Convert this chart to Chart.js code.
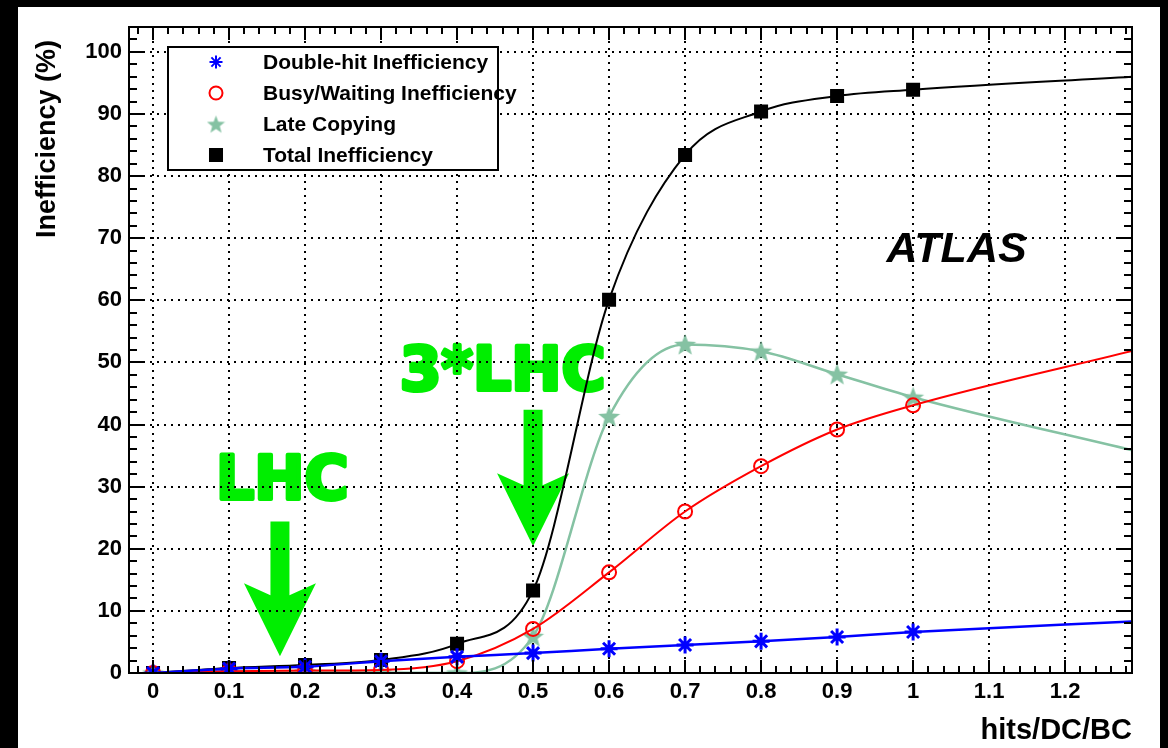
<!DOCTYPE html>
<html>
<head>
<meta charset="utf-8">
<script src="https://cdn.jsdelivr.net/npm/chart.js@4.4.0/dist/chart.umd.min.js"></script>
<style>
  html, body { margin: 0; padding: 0; background: #000; }
  canvas { display: block; }
</style>
</head>
<body>
<canvas id="myChart" width="1168" height="748"></canvas>
<script>
'use strict';
// hits per double column per bunch crossing
let hits = [0, 0.1, 0.2, 0.3, 0.4, 0.5, 0.6, 0.7, 0.8, 0.9, 1.0];
let doubleHit = [0, 0.7, 1.0, 1.9, 2.6, 3.2, 3.9, 4.5, 5.1, 5.8, 6.6];
let busyWaiting = [0, 0.3, 0.4, 0.5, 1.9, 7.1, 16.2, 26.0, 33.3, 39.2, 43.1];
let lateCopying = [0, 0.2, 0.2, 0.1, 0, 5.9, 41.3, 52.9, 51.8, 48.1, 44.4];
let totalIneff = [0, 0.8, 1.3, 2.1, 4.7, 13.3, 60.1, 83.4, 90.4, 92.9, 93.9];

// the fit curves run on to the right edge of the frame
let fitEndX = 1.29;
let fitEndY = [8.3, 51.9, 35.8, 96.0]; // double, busy, late, total

let seriesNames = ['Double-hit Inefficiency', 'Busy/Waiting Inefficiency', 'Late Copying', 'Total Inefficiency'];

let xTicks = [0, 0.1, 0.2, 0.3, 0.4, 0.5, 0.6, 0.7, 0.8, 0.9, 1, 1.1, 1.2];
let yTicks = [0, 10, 20, 30, 40, 50, 60, 70, 80, 90, 100];

// green "LHC" markers: text and arrow, in data units
let markText = ['LHC', '3*LHC'];
let markTextX = [0.17, 0.46];
let markTextY = [27.7, 45.3];
let markArrowX = [0.167, 0.5];
let markArrowTop = [24.4, 42.4];
let markArrowTip = [2.7, 20.4];

let starGreen = '#85c2a3';

function starImage(color, size) {
  let c = document.createElement('canvas');
  c.width = size;
  c.height = size;
  let g = c.getContext('2d');
  let ro = size / 2, ri = ro * 0.42;
  g.beginPath();
  for (let k = 0; k < 10; k++) {
    let r = k % 2 === 0 ? ro : ri;
    let a = -Math.PI / 2 + k * Math.PI / 5;
    g.lineTo(size / 2 + r * Math.cos(a), size / 2 + 1 + r * Math.sin(a));
  }
  g.closePath();
  g.fillStyle = color;
  g.fill();
  return c;
}
let starPic = starImage(starGreen, 23);
let starPicSmall = starImage(starGreen, 19);

function makeSeries(label, ys, endY, color, style, radius, fillCol, lw, bw) {
  let pts = [];
  for (let i = 0; i < hits.length; i++) {
    pts.push({ x: hits[i], y: ys[i] });
  }
  pts.push({ x: fitEndX, y: endY });
  return {
    label: label,
    data: pts,
    borderColor: color,
    borderWidth: lw,
    pointStyle: style,
    pointRadius: pts.map((p, i) => i < ys.length ? radius : 0),
    pointBorderColor: color,
    pointBackgroundColor: fillCol,
    pointBorderWidth: bw,
    cubicInterpolationMode: 'monotone',
    fill: false
  };
}

let datasets = [
  makeSeries(seriesNames[0], doubleHit, fitEndY[0], '#0000ff', 'star', 8.5, '#0000ff', 2.5, 3),
  makeSeries(seriesNames[1], busyWaiting, fitEndY[1], '#ff0000', 'circle', 7, 'rgba(0,0,0,0)', 2, 2),
  makeSeries(seriesNames[2], lateCopying, fitEndY[2], starGreen, starPic, 10, starGreen, 2.5, 2),
  makeSeries(seriesNames[3], totalIneff, fitEndY[3], '#000000', 'rect', 8.5, '#000000', 2, 2)
];

let tickFont = { family: 'Liberation Sans', size: 22, weight: 'bold' };

let decorPlugin = {
  id: 'decor',
  beforeDraw(chart) {
    let ctx = chart.ctx;
    ctx.save();
    ctx.fillStyle = '#000';
    ctx.fillRect(0, 0, chart.width, chart.height);
    ctx.fillStyle = '#fff';
    ctx.fillRect(18, 7, 1142, chart.height - 7);

    // green LHC annotations (under the grid and curves)
    let xs = chart.scales.x, ys = chart.scales.y;
    ctx.fillStyle = '#00ee00';
    ctx.strokeStyle = '#00ee00';
    ctx.lineWidth = 4;
    ctx.lineJoin = 'round';
    ctx.font = 'bold 60px "DejaVu Sans"';
    ctx.textAlign = 'center';
    ctx.textBaseline = 'alphabetic';
    for (let i = 0; i < markText.length; i++) {
      let tx = xs.getPixelForValue(markTextX[i]);
      let ty = ys.getPixelForValue(markTextY[i]) - 2;
      ctx.fillText(markText[i], tx, ty);
      ctx.strokeText(markText[i], tx, ty);
      let ax = xs.getPixelForValue(markArrowX[i]);
      let top = ys.getPixelForValue(markArrowTop[i]);
      let tip = ys.getPixelForValue(markArrowTip[i]);
      let head = 73, notch = 12, hw = 36, sw = 9.5;
      ctx.beginPath();
      ctx.moveTo(ax - sw, top);
      ctx.lineTo(ax - sw, tip - head + notch);
      ctx.lineTo(ax - hw, tip - head);
      ctx.lineTo(ax, tip);
      ctx.lineTo(ax + hw, tip - head);
      ctx.lineTo(ax + sw, tip - head + notch);
      ctx.lineTo(ax + sw, top);
      ctx.closePath();
      ctx.fill();
    }

    // ATLAS label
    ctx.fillStyle = '#000';
    ctx.font = 'italic bold 43px "Liberation Sans"';
    ctx.textAlign = 'left';
    ctx.fillText('ATLAS', xs.getPixelForValue(0.965), ys.getPixelForValue(66.2));

    // axis titles
    ctx.font = 'bold 27px "Liberation Sans"';
    ctx.save();
    ctx.translate(48, 40);
    ctx.rotate(-Math.PI / 2);
    ctx.textAlign = 'right';
    ctx.textBaseline = 'middle';
    ctx.fillText('Inefficiency (%)', 0, 0);
    ctx.restore();
    ctx.font = 'bold 29px "Liberation Sans"';
    ctx.textAlign = 'right';
    ctx.fillText('hits/DC/BC', chart.chartArea.right, 739);
    ctx.restore();
  },
  afterDraw(chart) {
    let ctx = chart.ctx;
    let a = chart.chartArea;
    let xs = chart.scales.x, ys = chart.scales.y;
    ctx.save();
    ctx.strokeStyle = '#000';
    ctx.lineWidth = 2;

    // ticks on all four sides, pointing inward
    ctx.beginPath();
    for (let k = Math.ceil(xs.min / 0.02); k <= Math.floor(xs.max / 0.02); k++) {
      let px = Math.round(xs.getPixelForValue(k * 0.02));
      let len = k % 5 === 0 ? 13 : 7;
      ctx.moveTo(px, a.bottom); ctx.lineTo(px, a.bottom - len);
      ctx.moveTo(px, a.top); ctx.lineTo(px, a.top + len);
    }
    for (let k = 0; k <= Math.floor(ys.max / 2); k++) {
      let py = Math.round(ys.getPixelForValue(k * 2));
      let len = k % 5 === 0 ? 15 : 8;
      ctx.moveTo(a.left, py); ctx.lineTo(a.left + len, py);
      ctx.moveTo(a.right, py); ctx.lineTo(a.right - len, py);
    }
    ctx.stroke();
    ctx.strokeRect(a.left, a.top, a.right - a.left, a.bottom - a.top);

    // legend box
    let lx = a.left + 39, ly = a.top + 20, lw = 330, lh = 123;
    ctx.fillStyle = '#fff';
    ctx.fillRect(lx, ly, lw, lh);
    ctx.strokeRect(lx, ly, lw, lh);
    ctx.font = 'bold 21px "Liberation Sans"';
    ctx.textAlign = 'left';
    ctx.textBaseline = 'middle';
    for (let i = 0; i < datasets.length; i++) {
      let d = datasets[i];
      let cy = ly + 15 + i * 31;
      let style = d.pointStyle === starPic ? starPicSmall : d.pointStyle;
      ctx.save();
      ctx.strokeStyle = d.pointBorderColor;
      ctx.fillStyle = d.pointBackgroundColor;
      ctx.lineWidth = 2;
      Chart.helpers.drawPoint(ctx, {
        pointStyle: style,
        radius: d.pointStyle === 'rect' ? 8.5 : 6.5,
        borderWidth: 2,
        rotation: 0
      }, lx + 48, cy);
      ctx.restore();
      ctx.fillStyle = '#000';
      ctx.fillText(d.label, lx + 95, cy + 1);
    }
    ctx.restore();
  }
};

let ctx = document.getElementById('myChart').getContext('2d');
let myChart = new Chart(ctx, {
  type: 'line',
  data: { datasets: datasets },
  plugins: [decorPlugin],
  options: {
    responsive: false,
    animation: false,
    layout: { padding: { left: 0, top: 27, right: 36, bottom: 0 } },
    plugins: {
      legend: { display: false },
      tooltip: { enabled: false }
    },
    scales: {
      x: {
        type: 'linear',
        min: -0.0316,
        max: 1.288,
        afterBuildTicks: s => { s.ticks = xTicks.map(v => ({ value: v })); },
        afterFit: s => { s.height = 75; },
        grid: { color: '#000', lineWidth: 2, drawTicks: false },
        border: { display: false, dash: [2, 5] },
        ticks: {
          color: '#000',
          font: tickFont,
          padding: 6,
          maxRotation: 0,
          autoSkip: false,
          callback: v => String(v)
        }
      },
      y: {
        min: 0,
        max: 104,
        afterBuildTicks: s => { s.ticks = yTicks.map(v => ({ value: v })); },
        afterFit: s => { s.width = 129; },
        grid: { color: '#000', lineWidth: 2, drawTicks: false },
        border: { display: false, dash: [2, 5] },
        ticks: {
          color: '#000',
          font: tickFont,
          padding: 7,
          autoSkip: false,
          callback: v => String(v)
        }
      }
    }
  }
});
</script>
</body>
</html>
